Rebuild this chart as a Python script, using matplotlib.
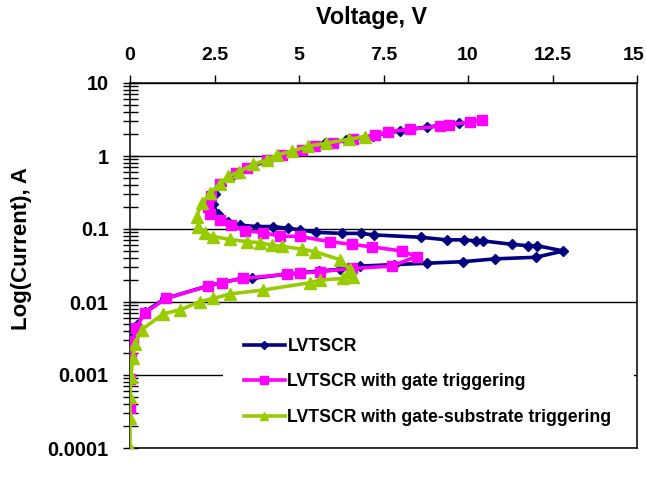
import matplotlib
matplotlib.use("Agg")
import matplotlib.pyplot as plt
import matplotlib.transforms as mtransforms
from matplotlib.ticker import FixedLocator, LogLocator, NullFormatter, FixedFormatter

plt.rcParams['font.family'] = ['Liberation Sans', 'DejaVu Sans']
plt.rcParams['font.weight'] = 'bold'

# ---- data (Voltage [V], Current [A]) ----
lvtscr_v = [0.0, 0.0, 0.02, 0.05, 0.1, 0.2, 0.45, 1.05, 2.3, 2.7, 3.3, 3.6, 4.6, 5.0, 5.6,
            6.2, 6.8, 7.8, 8.8, 9.86, 10.8, 12.01, 12.82, 12.05, 11.78, 11.31, 10.45, 10.24,
            9.89, 9.37, 8.61, 7.22, 6.83, 6.28, 5.5, 5.03, 4.68, 4.24, 3.75, 3.25, 2.9, 2.6,
            2.45, 2.5, 2.7, 3.0, 3.5, 4.0, 4.5, 5.1, 5.77, 6.4, 7.2, 7.99, 8.8, 9.74]
lvtscr_i = [0.0004, 0.0009, 0.0017, 0.0029, 0.0044, 0.0048, 0.0074, 0.0112, 0.0166, 0.0184,
            0.021, 0.021, 0.024, 0.025, 0.0266, 0.028, 0.031, 0.0325, 0.034, 0.0357, 0.039,
            0.041, 0.050, 0.059, 0.059, 0.0616, 0.0686, 0.0686, 0.071, 0.071, 0.077, 0.083,
            0.087, 0.087, 0.090, 0.098, 0.102, 0.108, 0.108, 0.113, 0.125, 0.16, 0.22, 0.3,
            0.4, 0.52, 0.68, 0.85, 1.0, 1.2, 1.49, 1.65, 1.9, 2.22, 2.5, 2.80]

gate_v = [0.0, 0.0, 0.03, 0.1, 0.17, 0.44, 1.07, 2.32, 2.71, 3.35, 4.64, 5.03, 5.62, 6.56,
          7.74, 8.48, 8.04, 7.15, 6.56, 5.92, 5.03, 4.44, 3.94, 3.4, 3.0, 2.66, 2.37, 2.3,
          2.4, 2.66, 3.15, 3.45, 4.04, 4.5, 5.08, 5.47, 6.0, 6.6, 7.25, 7.64, 8.28, 9.17,
          9.45, 10.06, 10.4]
gate_i = [0.00035, 0.00089, 0.0017, 0.0029, 0.0044, 0.0071, 0.0112, 0.0166, 0.0184, 0.0211,
          0.024, 0.0248, 0.026, 0.0288, 0.031, 0.042, 0.050, 0.057, 0.0616, 0.067, 0.079,
          0.080, 0.089, 0.095, 0.113, 0.133, 0.16, 0.20, 0.28, 0.42, 0.58, 0.68, 0.88, 1.03,
          1.21, 1.37, 1.5, 1.7, 1.94, 2.16, 2.32, 2.57, 2.66, 2.95, 3.11]

gsub_v = [0.0, 0.0, 0.0, 0.03, 0.08, 0.15, 0.35, 0.99, 1.48, 2.07, 2.47, 2.96, 3.94, 5.33,
          5.62, 6.3, 6.61, 6.51, 6.21, 5.47, 5.08, 4.49, 4.19, 3.85, 3.45, 2.96, 2.47, 2.22,
          2.02, 1.97, 2.12, 2.37, 2.66, 2.91, 3.22, 3.65, 4.04, 4.34, 4.80, 5.28, 5.79,
          6.49, 6.95]
gsub_i = [0.0001, 0.00026, 0.0005, 0.00095, 0.0017, 0.0027, 0.0042, 0.0069, 0.0078, 0.0101,
          0.0112, 0.0129, 0.0146, 0.0184, 0.020, 0.021, 0.0222, 0.028, 0.038, 0.049, 0.053,
          0.058, 0.060, 0.065, 0.067, 0.072, 0.0785, 0.087, 0.108, 0.148, 0.225, 0.31, 0.42,
          0.53, 0.61, 0.77, 0.88, 1.03, 1.17, 1.37, 1.49, 1.71, 1.84]

series_labels = ["LVTSCR", "LVTSCR with gate triggering",
                 "LVTSCR with gate-substrate triggering"]
x_ticks = [0, 2.5, 5, 7.5, 10, 12.5, 15]
x_ticklabels = ["0", "2.5", "5", "7.5", "10", "12.5", "15"]
y_ticks = [0.0001, 0.001, 0.01, 0.1, 1, 10]
y_ticklabels = ["0.0001", "0.001", "0.01", "0.1", "1", "10"]

fig = plt.figure(figsize=(6.46, 4.92), dpi=100)
ax = fig.add_axes([130/646, 1 - 448/492, (637-130)/646, (448-83)/492])

ax.plot(lvtscr_v, lvtscr_i, color="#000080", lw=2.6, marker="D", ms=5.2,
        label=series_labels[0], zorder=3)
ax.plot(gate_v, gate_i, color="#FF00FF", lw=2.6, marker="s", ms=7.5,
        label=series_labels[1], zorder=4)
ax.plot(gsub_v, gsub_i, color="#99CC00", lw=2.6, marker="^", ms=8,
        label=series_labels[2], zorder=5)

ax.set_yscale("log")
ax.set_xlim(0, 15)
ax.set_ylim(0.0001, 10)

ax.xaxis.set_ticks_position("top")
ax.xaxis.set_label_position("top")
ax.set_xticks(x_ticks)
ax.set_xticklabels(x_ticklabels)
ax.tick_params(axis="x", direction="out", length=5.8, width=1.0, labelsize=14, pad=8)
# nudge the last top label slightly left so it stays inside the figure
last = ax.get_xticklabels()[-1]
last.set_transform(last.get_transform() +
                   mtransforms.ScaledTranslation(-3/100, 0, fig.dpi_scale_trans))

ax.yaxis.set_major_locator(FixedLocator(y_ticks))
ax.yaxis.set_major_formatter(FixedFormatter(y_ticklabels))
ax.yaxis.set_minor_locator(LogLocator(base=10, subs=range(2, 10)))
ax.yaxis.set_minor_formatter(NullFormatter())
ax.tick_params(axis="y", which="both", direction="inout", length=10.8, width=1.0,
               labelsize=14.3, pad=10)
ax.tick_params(axis="y", which="both", right=False)

ax.grid(True, axis="y", which="major", color="black", lw=1.0)
ax.set_axisbelow(True)
for s in ax.spines.values():
    s.set_linewidth(1.1)
    s.set_color("black")

ax.set_xlabel("Voltage, V", fontsize=16.8, fontweight="bold")
ax.xaxis.set_label_coords((372 - 130) / 507, (448 - 24) / 365)
ax.set_ylabel("Log(Current), A", fontsize=16, fontweight="bold")
ax.yaxis.set_label_coords((32 - 130) / 507, (448 - 248.5) / 365)

leg = ax.legend(loc="center", bbox_to_anchor=((223-130)/507, (448-437)/365,
                                              (634-223)/507, (437-327)/365),
                mode="expand", borderaxespad=0, frameon=True, fancybox=False,
                facecolor="white", edgecolor="none", framealpha=1,
                prop={"size": 12.7, "weight": "bold"}, handlelength=2.3,
                handletextpad=0.15, labelspacing=1.06, borderpad=1.2,
                markerscale=0.8)
leg.set_zorder(2)
leg._legend_box.align = "left"

fig.savefig("out.png", dpi=100)
